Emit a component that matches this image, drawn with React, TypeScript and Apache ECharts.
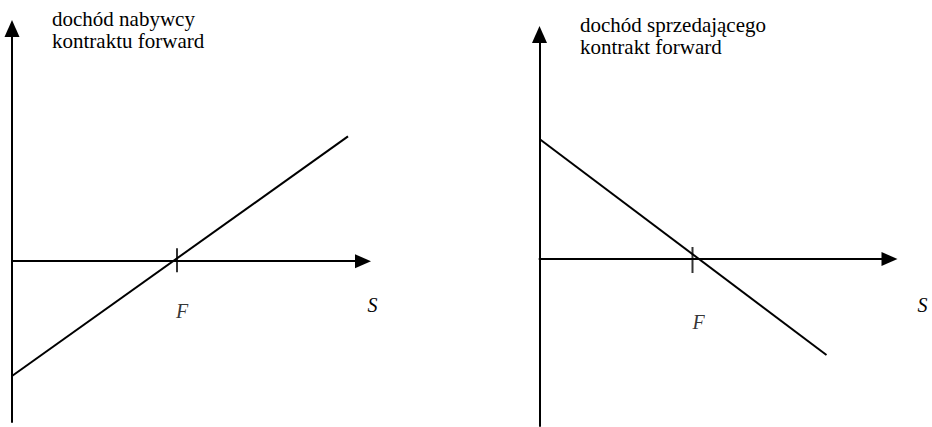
import React, { useEffect, useRef } from "react";
import * as echarts from "echarts";

// Left panel: payoff of the forward buyer
const buyerS = [0, 336];
const buyerPayoff = [-115, 125];
const buyerF = 165;
const buyerXRange = [0, 351];
const buyerYRange = [-161, 233];

// Right panel: payoff of the forward seller
const sellerS = [0, 287];
const sellerPayoff = [120, -96];
const sellerF = 153;
const sellerXRange = [0, 350];
const sellerYRange = [-167, 224.5];

const buyerTitle = ["dochód nabywcy", "kontraktu forward"];
const sellerTitle = ["dochód sprzedającego", "kontrakt forward"];
const fLabel = "F";
const sLabel = "S";

const FONT = "Liberation Serif";

export default function App() {
  const ref = useRef<HTMLDivElement>(null);
  useEffect(() => {
    if (!ref.current) return;
    const chart = echarts.init(ref.current, null, { renderer: "svg" });
    const axisLine = (sym: number[]) => ({
      show: true,
      onZero: true,
      symbol: ["none", "triangle"],
      symbolSize: sym,
      lineStyle: { color: "#000", width: 2 },
    });
    const xAxis = (idx: number, range: number[], nameGap: number, namePad: number) => ({
      type: "value",
      gridIndex: idx,
      min: range[0],
      max: range[1],
      axisLine: axisLine([14, 16]),
      axisTick: { show: false },
      splitLine: { show: false },
      axisLabel: { show: false },
      name: sLabel,
      nameLocation: "end",
      nameGap,
      nameTextStyle: {
        fontFamily: FONT,
        fontStyle: "italic",
        fontSize: 20,
        color: "#000",
        align: "center",
        verticalAlign: "top",
        padding: [namePad, 0, 0, 0],
      },
    });
    const yAxis = (idx: number, range: number[]) => ({
      type: "value",
      gridIndex: idx,
      min: range[0],
      max: range[1],
      axisLine: axisLine([15, 17]),
      axisTick: { show: false },
      axisLabel: { show: false },
      splitLine: { show: false },
    });
    const lineSeries = (idx: number, xs: number[], ys: number[]) => ({
      type: "line",
      xAxisIndex: idx,
      yAxisIndex: idx,
      data: xs.map((x, i) => [x, ys[i]]),
      showSymbol: false,
      lineStyle: { color: "#000", width: 2 },
      silent: true,
      z: 3,
    });
    const tickSeries = (idx: number, f: number, h: number, off: number) => ({
      type: "scatter",
      xAxisIndex: idx,
      yAxisIndex: idx,
      data: [[f, 0]],
      symbol: "rect",
      symbolSize: [2, h],
      symbolOffset: [0, off],
      itemStyle: { color: "#000" },
      silent: true,
      z: 2,
    });
    const fLabelSeries = (idx: number, f: number, dx: number, dy: number) => ({
      type: "scatter",
      xAxisIndex: idx,
      yAxisIndex: idx,
      data: [[f, 0]],
      symbol: "rect",
      symbolSize: 1,
      itemStyle: { color: "rgba(0,0,0,0)" },
      label: {
        show: true,
        position: "inside",
        offset: [dx, dy],
        formatter: () => fLabel,
        fontFamily: FONT,
        fontStyle: "italic",
        fontSize: 20,
        color: "#000",
      },
      silent: true,
      z: 1,
    });
    chart.setOption({
      animation: false,
      backgroundColor: "#fff",
      grid: [
        { left: 12, top: 28.5, width: 351, height: 393.5, outerBoundsMode: "none", containLabel: false },
        { left: 539.5, top: 34.5, width: 350, height: 391.5, outerBoundsMode: "none", containLabel: false },
      ],
      xAxis: [xAxis(0, buyerXRange, 9.5, 33.5), xAxis(1, sellerXRange, 33, 35.5)],
      yAxis: [yAxis(0, buyerYRange), yAxis(1, sellerYRange)],
      series: [
        lineSeries(0, buyerS, buyerPayoff),
        tickSeries(0, buyerF, 24, -1),
        fLabelSeries(0, buyerF, 5, 50),
        lineSeries(1, sellerS, sellerPayoff),
        tickSeries(1, sellerF, 26, 1),
        fLabelSeries(1, sellerF, 6, 63),
      ],
      graphic: [
        {
          type: "text",
          left: 52,
          top: 7.5,
          style: {
            text: buyerTitle.join("\n"),
            fontFamily: FONT,
            fontSize: 21,
            lineHeight: 22,
            fill: "#000",
          },
        },
        {
          type: "text",
          left: 580,
          top: 13.5,
          style: {
            text: sellerTitle.join("\n"),
            fontFamily: FONT,
            fontSize: 21,
            lineHeight: 22,
            fill: "#000",
          },
        },
      ],
    });
    return () => chart.dispose();
  }, []);
  return (
    <div
      ref={ref}
      style={{ position: "fixed", left: 0, top: 0, width: 932, height: 427, background: "#fff" }}
    />
  );
}
